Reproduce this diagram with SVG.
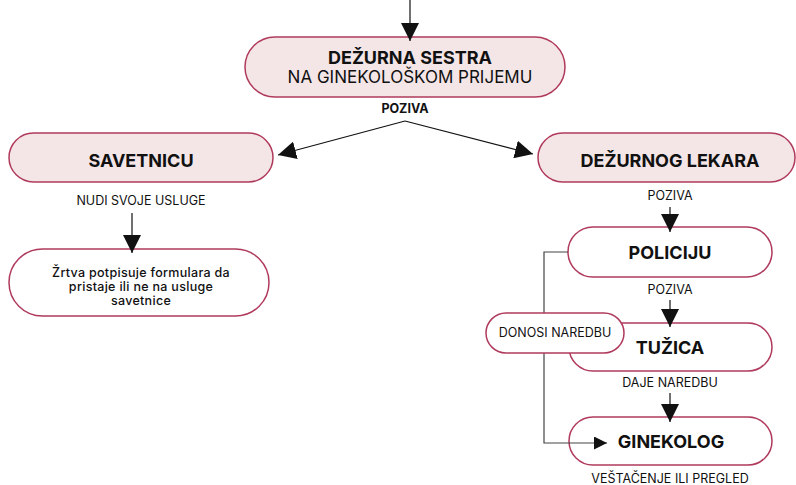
<svg xmlns="http://www.w3.org/2000/svg" width="796" height="485" viewBox="0 0 796 485">
<defs>
<marker id="ah" viewBox="0 0 10 10" refX="10" refY="5" markerWidth="18" markerHeight="18" markerUnits="userSpaceOnUse" orient="auto">
<path d="M0,0 L10,5 L0,10 Z" fill="#111"/>
</marker>
<marker id="ah2" viewBox="0 0 10 10" refX="10" refY="5" markerWidth="13" markerHeight="13" markerUnits="userSpaceOnUse" orient="auto">
<path d="M0,0 L10,5 L0,10 Z" fill="#111"/>
</marker>
<style>
.box{fill:#f4e6e7;stroke:#b03a5c;stroke-width:1.5}
.wbox{fill:#ffffff;stroke:#b03a5c;stroke-width:1.5}
text{font-family:Inter,"Liberation Sans",sans-serif;fill:#111;text-anchor:middle}
.t{font-size:18px;font-weight:700}
.s{font-size:17px;font-weight:400}
.l{font-size:12.5px;font-weight:400}
.lb{font-size:12.5px;font-weight:700}
.b{font-size:12.5px;font-weight:500;letter-spacing:0.3px}
.c{fill:none;stroke:#111;stroke-width:1.2}
.c2{fill:none;stroke:#444;stroke-width:1.2}
</style>
</defs>
<rect width="796" height="485" fill="#ffffff"/>
<g id="sestra">
<rect class="box" x="245" y="37" width="320" height="60" rx="30"/>
<text class="t" x="410" y="64">DEŽURNA SESTRA</text>
<text class="s" x="410" y="83">NA GINEKOLOŠKOM PRIJEMU</text>
</g>
<text class="lb" x="405" y="113">POZIVA</text>
<g id="savetnicu">
<rect class="box" x="9" y="133" width="264" height="49" rx="24.5"/>
<text class="t" x="141" y="167">SAVETNICU</text>
</g>
<text class="l" x="141" y="205">NUDI SVOJE USLUGE</text>
<g id="zrtva">
<rect class="wbox" x="9" y="249" width="260" height="67" rx="33.5"/>
<text class="b" x="141" y="277">Žrtva potpisuje formulara da</text>
<text class="b" x="141" y="291">pristaje ili ne na usluge</text>
<text class="b" x="141" y="305">savetnice</text>
</g>
<g id="lekar">
<rect class="box" x="538" y="133" width="257" height="49" rx="24.5"/>
<text class="t" x="670" y="167">DEŽURNOG LEKARA</text>
</g>
<text class="l" x="670" y="200">POZIVA</text>
<g id="policiju">
<rect class="wbox" x="568" y="227" width="204" height="50" rx="25"/>
<text class="t" x="670" y="259">POLICIJU</text>
</g>
<text class="l" x="670" y="294">POZIVA</text>
<g id="tuzica">
<rect class="wbox" x="569" y="323" width="203" height="48" rx="24"/>
<text class="t" x="670" y="354">TUŽICA</text>
</g>
<text class="l" x="670" y="387">DAJE NAREDBU</text>
<g id="ginekolog">
<rect class="wbox" x="569" y="417" width="203" height="48" rx="24"/>
<text class="t" x="671" y="448">GINEKOLOG</text>
</g>
<text class="l" x="670" y="483">VEŠTAČENJE ILI PREGLED</text>
<g id="connectors">
<line class="c" x1="410" y1="0" x2="410" y2="41" marker-end="url(#ah)"/>
<polyline class="c" points="405,121 278,155" marker-end="url(#ah)"/>
<polyline class="c" points="405,121 533,154" marker-end="url(#ah)"/>
<line class="c" x1="132" y1="213" x2="132" y2="253" marker-end="url(#ah)"/>
<line class="c" x1="670" y1="207" x2="670" y2="232" marker-end="url(#ah)"/>
<line class="c" x1="670" y1="300" x2="670" y2="327" marker-end="url(#ah)"/>
<line class="c" x1="670" y1="393" x2="670" y2="422" marker-end="url(#ah)"/>
<polyline class="c2" points="568,252 544,252 544,443 607,443" marker-end="url(#ah2)"/>
</g>
<g id="donosi">
<rect class="wbox" x="486" y="313" width="138" height="40" rx="20"/>
<text class="l" x="555" y="337">DONOSI NAREDBU</text>
</g>
</svg>
